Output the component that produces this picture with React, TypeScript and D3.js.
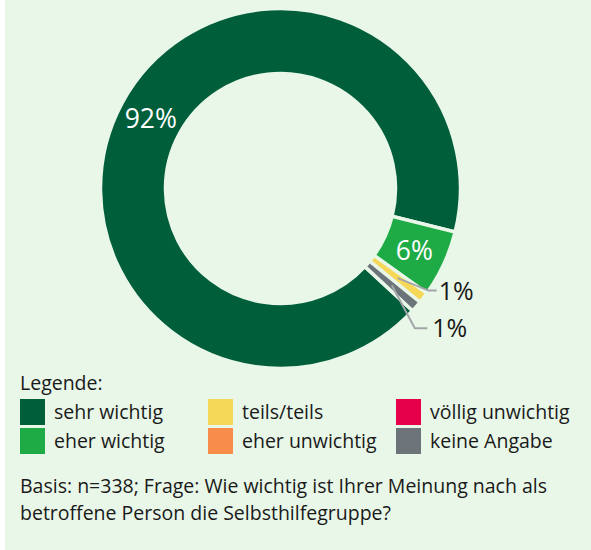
import React from "react";
import * as d3 from "d3";

const categories = ["sehr wichtig", "eher wichtig", "teils/teils", "eher unwichtig", "völlig unwichtig", "keine Angabe"];
const values = [92, 6, 1, 0, 0, 1];
const colors = ["#005E3B", "#1EAB45", "#F5D858", "#F88D4B", "#E6004C", "#6D7479"];
const labels = ["92%", "6%", "1%", "", "", "1%"];
// outside label placement: [elbowDx, elbowDy, endDx, textGap] relative to centroid (only for small slices)
const outside: Record<number, [number, number, number, number]> = {
  2: [31, 12.5, 39, 2],
  5: [23, 43, 35.5, 5],
};
const footnote = [
  "Basis: n=338; Frage: Wie wichtig ist Ihrer Meinung nach als",
  "betroffene Person die Selbsthilfegruppe?",
];

const W = 591, H = 550;
const cx = 280.5, cy = 188.5, R = 180, r = 115;
const FONT = "'Open Sans', 'DejaVu Sans', sans-serif";
const BG = "#E9F7E8";
const FS = 19.5;

export default function App() {
  const start = (132.8 * Math.PI) / 180;
  const pie = d3.pie<number>().sort(null).value((d) => d).startAngle(start).endAngle(start + 2 * Math.PI);
  const arcs = pie(values);
  const arc = d3.arc<d3.PieArcDatum<number>>().innerRadius(r).outerRadius(R);

  const legendCols = [20, 208, 396];
  const legendRows = [399, 428];

  return (
    <svg width={W} height={H} style={{ position: "absolute", left: 0, top: 0 }} fontFamily={FONT}>
      <rect x={0} y={0} width={W} height={H} fill="#ffffff" />
      <rect x={5} y={0} width={W - 5} height={H} fill={BG} />
      <g transform={`translate(${cx},${cy})`}>
        {arcs.map((a, i) =>
          a.value > 0 ? (
            <path key={i} d={arc(a) || ""} fill={colors[i]} stroke={BG} strokeWidth={3.5} strokeLinejoin="miter" />
          ) : null
        )}
        {arcs.map((a, i) => {
          if (a.value <= 0) return null;
          const [x, y] = arc.centroid(a);
          const o = outside[i];
          if (o) {
            return (
              <g key={"l" + i}>
                <polyline
                  points={`${x},${y} ${x + o[0]},${y + o[1]} ${x + o[2]},${y + o[1]}`}
                  fill="none"
                  stroke="#A3A6A8"
                  strokeWidth={2}
                />
                <text x={x + o[2] + o[3]} y={y + o[1]} dy="0.36em" fontSize={25} fill="#1a1a1a">
                  {labels[i]}
                </text>
              </g>
            );
          }
          return (
            <text key={"l" + i} x={x} y={y} dy="0.36em" textAnchor="middle" fontSize={26.5} fill="#ffffff">
              {labels[i]}
            </text>
          );
        })}
      </g>
      <text x={20} y={390} fontSize={FS} fill="#1a1a1a">Legende:</text>
      {categories.map((c, i) => {
        const col = Math.floor(i / 2);
        const row = i % 2;
        const x = legendCols[col];
        const y = legendRows[row];
        return (
          <g key={c}>
            <rect x={x} y={y} width={25} height={26} fill={colors[i]} />
            <text x={x + 34} y={y + 13} dy="0.36em" fontSize={FS} fill="#1a1a1a">{c}</text>
          </g>
        );
      })}
      {footnote.map((t, i) => (
        <text key={i} x={20} y={493 + i * 27} fontSize={FS} fill="#1a1a1a">{t}</text>
      ))}
    </svg>
  );
}
